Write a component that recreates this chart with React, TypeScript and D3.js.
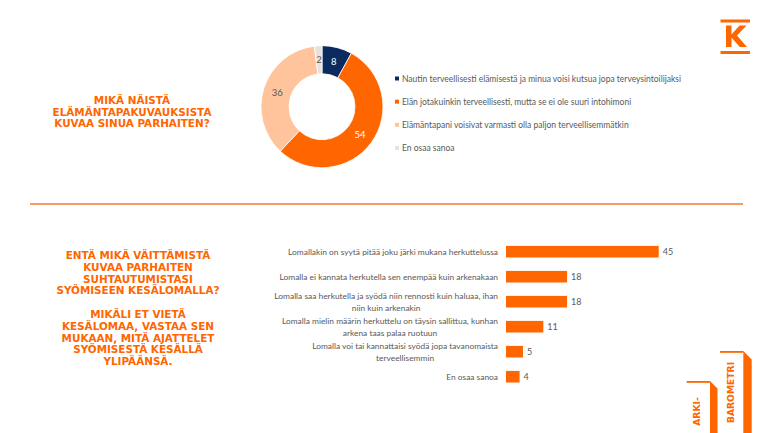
import { useEffect, useRef } from 'react'
import * as d3 from 'd3'

const W = 770
const H = 433
const ORANGE = '#ff6600'
const GREY = '#595959'

// donut: lifestyle self-description
const lifestyleLabels = [
  'Nautin terveellisesti elämisestä ja minua voisi kutsua jopa terveysintoilijaksi',
  'Elän jotakuinkin terveellisesti, mutta se ei ole suuri intohimoni',
  'Elämäntapani voisivat varmasti olla paljon terveellisemmätkin',
  'En osaa sanoa',
]
const lifestyleValues = [8, 54, 36, 2]
const lifestyleColors = ['#0b2a5e', '#ff6600', '#ffc49b', '#e8e2dc']
const lifestyleTextColors = ['#ffffff', '#ffffff', GREY, GREY]

// bars: attitude to treats on summer holiday
const holidayLabels = [
  ['Lomallakin on syytä pitää joku järki mukana herkuttelussa'],
  ['Lomalla ei kannata herkutella sen enempää kuin arkenakaan'],
  ['Lomalla saa herkutella ja syödä niin rennosti kuin haluaa, ihan', 'niin kuin arkenakin'],
  ['Lomalla mielin määrin herkuttelu on täysin sallittua, kunhan', 'arkena taas palaa ruotuun'],
  ['Lomalla voi tai kannattaisi syödä jopa tavanomaista', 'terveellisemmin'],
  ['En osaa sanoa'],
]
const holidayValues = [45, 18, 18, 11, 5, 4]

const title1 = ['MIKÄ NÄISTÄ', 'ELÄMÄNTAPAKUVAUKSISTA', 'KUVAA SINUA PARHAITEN?']
const title2 = [
  'ENTÄ MIKÄ VÄITTÄMISTÄ',
  'KUVAA PARHAITEN',
  'SUHTAUTUMISTASI',
  'SYÖMISEEN KESÄLOMALLA?',
  '',
  'MIKÄLI ET VIETÄ',
  'KESÄLOMAA, VASTAA SEN',
  'MUKAAN, MITÄ AJATTELET',
  'SYÖMISESTÄ KESÄLLÄ',
  'YLIPÄÄNSÄ.',
]

const labelFont = 'Lato, "DejaVu Sans", sans-serif'
const titleFont = '"DejaVu Sans", sans-serif'

export default function App() {
  const ref = useRef<SVGSVGElement>(null)

  useEffect(() => {
    const svg = d3.select(ref.current)
    svg.selectAll('*').remove()

    // titles
    const drawTitle = (lines: string[], x: number, y0: number, lh: number) => {
      const t = svg
        .append('text')
        .attr('fill', ORANGE)
        .attr('font-family', titleFont)
        .attr('font-weight', 'bold')
        .attr('font-size', 10.4)
        .attr('text-anchor', 'middle')
      lines.forEach((l, i) => {
        t.append('tspan').attr('x', x).attr('y', y0 + i * lh).text(l)
      })
    }
    drawTitle(title1, 132, 104, 11.7)
    drawTitle(title2, 138, 259, 11.8)

    // donut
    const cx = 322
    const cy = 106.7
    const pie = d3
      .pie<number>()
      .sort(null)
      .value((d) => d)
    const arc = d3.arc<d3.PieArcDatum<number>>().innerRadius(33).outerRadius(61)
    const arcs = pie(lifestyleValues)
    const g = svg.append('g').attr('transform', `translate(${cx},${cy})`)
    g.selectAll('path')
      .data(arcs)
      .join('path')
      .attr('d', arc)
      .attr('fill', (_, i) => lifestyleColors[i])
      .attr('stroke', '#fff')
      .attr('stroke-width', 0.8)
    const labelArc = d3.arc<d3.PieArcDatum<number>>().innerRadius(47).outerRadius(47)
    g.selectAll('text')
      .data(arcs)
      .join('text')
      .attr('transform', (d) => `translate(${labelArc.centroid(d)})`)
      .attr('text-anchor', 'middle')
      .attr('dominant-baseline', 'central')
      .attr('font-family', labelFont)
      .attr('font-size', 9.5)
      .attr('fill', (_, i) => lifestyleTextColors[i])
      .text((d) => d.data)

    // legend
    const legendY = d3.scalePoint<string>().domain(lifestyleLabels).range([78.5, 148])
    const lg = svg.append('g')
    lifestyleLabels.forEach((l, i) => {
      const y = legendY(l)!
      lg.append('rect')
        .attr('x', 395)
        .attr('y', y - 2)
        .attr('width', 4)
        .attr('height', 4)
        .attr('fill', lifestyleColors[i])
      lg.append('text')
        .attr('x', 402)
        .attr('y', y)
        .attr('dominant-baseline', 'central')
        .attr('font-family', labelFont)
        .attr('font-size', 8.5)
        .attr('fill', GREY)
        .text(l)
    })

    // separator
    svg
      .append('line')
      .attr('x1', 30)
      .attr('x2', 743)
      .attr('y1', 204)
      .attr('y2', 204)
      .attr('stroke', '#f57a2e')
      .attr('stroke-width', 1.4)

    // bar chart
    const cats = holidayLabels.map((l) => l.join(' '))
    const x = d3.scaleLinear().domain([0, 45]).range([506, 658.7])
    const y = d3.scalePoint<string>().domain(cats).range([251.7, 376.7])
    const barH = 11.6
    const bars = svg.append('g')
    bars
      .selectAll('rect')
      .data(holidayValues)
      .join('rect')
      .attr('x', x(0))
      .attr('y', (_, i) => y(cats[i])! - barH / 2)
      .attr('width', (d) => x(d) - x(0))
      .attr('height', barH)
      .attr('fill', ORANGE)
    bars
      .selectAll('text.val')
      .data(holidayValues)
      .join('text')
      .attr('class', 'val')
      .attr('x', (d) => x(d) + 4)
      .attr('y', (_, i) => y(cats[i])!)
      .attr('dominant-baseline', 'central')
      .attr('font-family', labelFont)
      .attr('font-size', 9)
      .attr('fill', GREY)
      .text((d) => d)

    const right = 498
    const lineH = 12
    holidayLabels.forEach((lines, i) => {
      const c = y(cats[i])!
      const t = bars
        .append('text')
        .attr('font-family', labelFont)
        .attr('font-size', 8.4)
        .attr('fill', GREY)
        .attr('text-anchor', 'middle')
        .attr('dominant-baseline', 'central')
      const spans = lines.map((l, j) =>
        t
          .append('tspan')
          .attr('y', c + (j - (lines.length - 1) / 2) * lineH)
          .text(l)
      )
      const widths = spans.map((s) => (s.node() as SVGTSpanElement).getComputedTextLength())
      const bw = Math.max(...widths)
      spans.forEach((s) => s.attr('x', right - bw / 2))
    })

    // K logo
    const k = svg.append('g').attr('fill', ORANGE)
    k.append('rect').attr('x', 720.5).attr('y', 19.5).attr('width', 29.5).attr('height', 3)
    k.append('rect').attr('x', 720.5).attr('y', 51).attr('width', 29.5).attr('height', 3)
    k.append('path').attr(
      'd',
      'M726,25.5 H731.5 V34.5 L739.5,25.5 H746.5 L737,35.5 L747,47 H739.8 L731.5,37.5 V47 H726 Z'
    )

    // ARKI-BAROMETRI badge
    const b = svg.append('g')
    b.append('rect').attr('x', 686.7).attr('y', 381).attr('width', 23.3).attr('height', 1.8).attr('fill', ORANGE)
    b.append('path').attr('d', 'M710,381 L717.5,388.5 V433 H710 Z').attr('fill', ORANGE)
    b.append('rect').attr('x', 720).attr('y', 351).attr('width', 23.3).attr('height', 1.8).attr('fill', ORANGE)
    b.append('path').attr('d', 'M743.3,351 L751.7,359.5 V433 H743.3 Z').attr('fill', ORANGE)
    b.append('text')
      .attr('transform', 'translate(700,411.5) rotate(-90)')
      .attr('text-anchor', 'middle')
      .attr('font-family', titleFont)
      .attr('font-weight', 'bold')
      .attr('font-size', 9.2)
      .attr('fill', ORANGE)
      .text('ARKI-')
    b.append('text')
      .attr('transform', 'translate(733.5,392.5) rotate(-90)')
      .attr('text-anchor', 'middle')
      .attr('font-family', titleFont)
      .attr('font-weight', 'bold')
      .attr('font-size', 9.2)
      .attr('fill', ORANGE)
      .text('BAROMETRI')
  }, [])

  return (
    <svg
      ref={ref}
      width={W}
      height={H}
      style={{ position: 'absolute', left: 0, top: 0, background: '#fff' }}
    />
  )
}
